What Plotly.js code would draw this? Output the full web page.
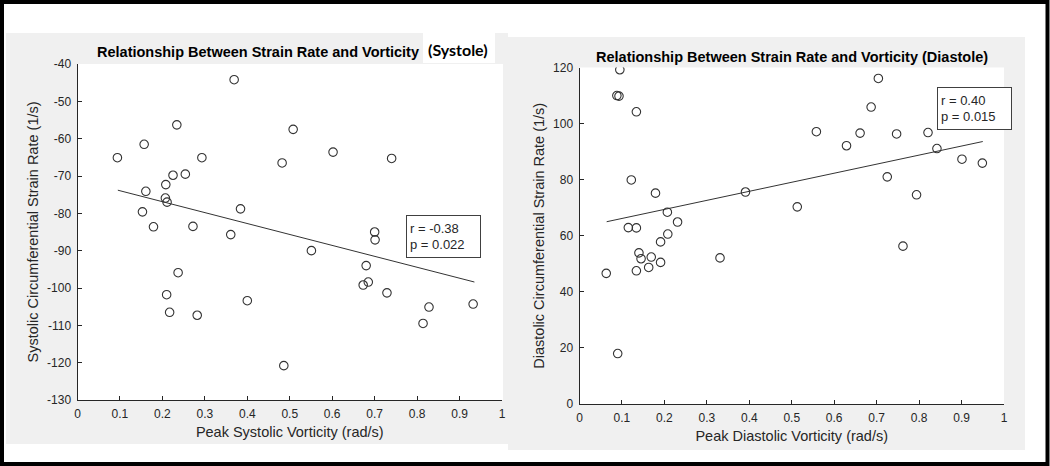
<!DOCTYPE html>
<html>
<head>
<meta charset="utf-8">
<script src="https://cdn.plot.ly/plotly-3.0.1.min.js"></script>
<style>
  html, body { margin: 0; padding: 0; background: #fff; }
  #chart { width: 1050px; height: 466px; }
</style>
</head>
<body>
<div id="chart"></div>
<script>
// values
const sysVort = [0.094, 0.157, 0.161, 0.153, 0.179, 0.234, 0.225, 0.254, 0.293, 0.208, 0.207, 0.211,
                 0.272, 0.237, 0.210, 0.217, 0.282, 0.369, 0.384, 0.361, 0.400, 0.482, 0.508, 0.486,
                 0.551, 0.602, 0.740, 0.700, 0.701, 0.680, 0.673, 0.685, 0.729, 0.828, 0.814, 0.932];
const sysStrain = [-65.1, -61.5, -74.1, -79.6, -83.6, -56.3, -69.8, -69.5, -65.1, -72.3, -75.9, -77.0,
                   -83.5, -95.9, -101.8, -106.5, -107.3, -44.2, -78.8, -85.7, -103.4, -66.5, -57.5, -120.8,
                   -90.0, -63.6, -65.3, -85.0, -87.1, -94.0, -99.2, -98.4, -101.3, -105.1, -109.5, -104.3];
const sysFitX = [0.095, 0.935];
const sysFitY = [-73.8, -98.4];

const diaVort = [0.063, 0.090, 0.095, 0.088, 0.093, 0.134, 0.122, 0.115, 0.134, 0.179, 0.207, 0.231,
                 0.208, 0.191, 0.140, 0.145, 0.169, 0.191, 0.163, 0.134, 0.331, 0.391, 0.513, 0.558,
                 0.629, 0.661, 0.687, 0.704, 0.725, 0.747, 0.762, 0.794, 0.821, 0.842, 0.901, 0.949];
const diaStrain = [46.6, 18.0, 119.2, 110.0, 109.8, 104.2, 79.9, 62.9, 62.8, 75.2, 68.4, 64.9,
                   60.6, 57.8, 53.9, 51.8, 52.4, 50.5, 48.7, 47.5, 52.1, 75.6, 70.3, 97.1,
                   92.1, 96.6, 105.9, 116.1, 81.0, 96.3, 56.3, 74.6, 96.8, 91.1, 87.3, 85.9];
const diaFitX = [0.064, 0.950];
const diaFitY = [65.0, 93.6];

const xTicks = [0, 0.1, 0.2, 0.3, 0.4, 0.5, 0.6, 0.7, 0.8, 0.9, 1];
const xTickText = ['0', '0.1', '0.2', '0.3', '0.4', '0.5', '0.6', '0.7', '0.8', '0.9', '1'];
const sysYTicks = [-130, -120, -110, -100, -90, -80, -70, -60, -50, -40];
const sysYTickText = ['-130', '-120', '-110', '-100', '-90', '-80', '-70', '-60', '-50', '-40'];
const diaYTicks = [0, 20, 40, 60, 80, 100, 120];
const diaYTickText = ['0', '20', '40', '60', '80', '100', '120'];

const sysStats = ['r = -0.38', 'p = 0.022'];
const diaStats = ['r = 0.40', 'p = 0.015'];

// pixel -> paper helpers
const W = 1050, H = 466;
const px = (x) => x / W;
const py = (y) => 1 - y / H;

const ink = '#262626';
const font = 'Liberation Sans, Arial, sans-serif';

const scatter = (x, y, xa, ya) => ({
    x: x, y: y, xaxis: xa, yaxis: ya,
    type: 'scatter', mode: 'markers',
    marker: { symbol: 'circle-open', size: 8.5, color: '#333', line: { width: 1.1, color: '#333' } },
    hoverinfo: 'x+y'
});
const fit = (x, y, xa, ya) => ({
    x: x, y: y, xaxis: xa, yaxis: ya,
    type: 'scatter', mode: 'lines',
    line: { color: '#333', width: 1 },
    hoverinfo: 'skip'
});

const chartData = [
    scatter(sysVort, sysStrain, 'x', 'y'),
    fit(sysFitX, sysFitY, 'x', 'y'),
    scatter(diaVort, diaStrain, 'x2', 'y2'),
    fit(diaFitX, diaFitY, 'x2', 'y2')
];

const axisBase = {
    showgrid: false, zeroline: false, showline: true, mirror: false,
    linecolor: ink, linewidth: 1,
    ticks: 'inside', ticklen: 4, tickcolor: ink,
    tickfont: { family: font, size: 12, color: ink },
    tickmode: 'array', ticklabelstandoff: 3
};

const rect = (x0, y0, x1, y1, fill) => ({
    type: 'rect', xref: 'paper', yref: 'paper', layer: 'below',
    x0: px(x0), x1: px(x1), y0: py(y1), y1: py(y0),
    fillcolor: fill, line: { width: 0 }
});

const statBox = (lines, x, y) => ({
    xref: 'paper', yref: 'paper', x: px(x), y: py(y),
    xanchor: 'left', yanchor: 'top', align: 'left',
    text: lines.join('<br>'), showarrow: false,
    font: { family: font, size: 13, color: ink },
    bgcolor: '#fff', bordercolor: '#404040', borderwidth: 1, borderpad: 3,
    width: 67, height: 35
});

const layout = {
    width: W, height: H,
    margin: { l: 0, r: 0, t: 0, b: 0 },
    paper_bgcolor: '#fff', plot_bgcolor: '#fff',
    showlegend: false,
    xaxis: Object.assign({}, axisBase, {
        domain: [px(77.5), px(502)], range: [0, 1], anchor: 'y',
        tickvals: xTicks, ticktext: xTickText,
        title: { text: 'Peak Systolic Vorticity (rad/s)', font: { family: font, size: 14.5, color: ink }, standoff: 6 }
    }),
    yaxis: Object.assign({}, axisBase, {
        domain: [py(400), py(64)], range: [-130, -40], anchor: 'x',
        tickvals: sysYTicks, ticktext: sysYTickText,
        title: { text: 'Systolic Circumferential Strain Rate (1/s)', font: { family: font, size: 14.5, color: ink }, standoff: 4 }
    }),
    xaxis2: Object.assign({}, axisBase, {
        domain: [px(579.5), px(1004)], range: [0, 1], anchor: 'y2',
        tickvals: xTicks, ticktext: xTickText,
        title: { text: 'Peak Diastolic Vorticity (rad/s)', font: { family: font, size: 14.5, color: ink }, standoff: 6 }
    }),
    yaxis2: Object.assign({}, axisBase, {
        domain: [py(404), py(67.5)], range: [0, 120], anchor: 'x2',
        tickvals: diaYTicks, ticktext: diaYTickText,
        title: { text: 'Diastolic Circumferential Strain Rate (1/s)', font: { family: font, size: 14.5, color: ink }, standoff: 4 }
    }),
    shapes: [
        rect(6, 33, 508, 444, '#f0f0f0'),
        rect(508, 37, 1025, 450, '#f0f0f0'),
        rect(77.5, 64, 503, 400, '#fff'),
        rect(579.5, 67.5, 1004, 404, '#fff'),
        rect(423, 33, 495, 63, '#fff'),
        {
            type: 'rect', xref: 'paper', yref: 'paper', layer: 'above',
            x0: px(2), x1: px(1047.5), y0: py(464), y1: py(2),
            line: { color: '#000', width: 4 }, fillcolor: 'rgba(0,0,0,0)'
        }
    ],
    annotations: [
        {
            xref: 'paper', yref: 'paper', x: px(258), y: py(52), xanchor: 'center', yanchor: 'middle',
            text: '<b>Relationship Between Strain Rate and Vorticity</b>', showarrow: false,
            font: { family: font, size: 14.5, color: '#000' }
        },
        {
            xref: 'paper', yref: 'paper', x: px(458), y: py(50), xanchor: 'center', yanchor: 'middle',
            text: '<b>(Systole)</b>', showarrow: false,
            font: { family: 'Lato, Open Sans, sans-serif', size: 16, color: '#000' }
        },
        {
            xref: 'paper', yref: 'paper', x: px(791.5), y: py(57), xanchor: 'center', yanchor: 'middle',
            text: '<b>Relationship Between Strain Rate and Vorticity (Diastole)</b>', showarrow: false,
            font: { family: font, size: 14.5, color: '#000' }
        },
        statBox(sysStats, 406, 215),
        statBox(diaStats, 937, 87)
    ]
};

Plotly.newPlot('chart', chartData, layout, { displayModeBar: false, staticPlot: true });
</script>
</body>
</html>
